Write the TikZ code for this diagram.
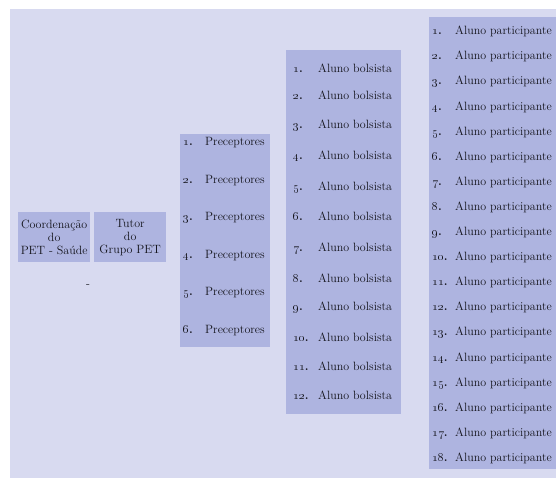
\documentclass[tikz,border=0pt]{standalone}
\definecolor{bgc}{RGB}{216,218,240}
\definecolor{boxc}{RGB}{174,180,224}
\definecolor{txt}{RGB}{20,20,28}
\begin{document}
\begin{tikzpicture}[x=1pt,y=-1pt,
  box/.style={fill=boxc, inner sep=0pt, anchor=north west},
  num/.style={anchor=west, inner sep=0pt, text height=8pt, text depth=2.5pt, text=txt, font=\fontsize{12}{14}\selectfont\bfseries},
  lbl/.style={anchor=west, inner sep=0pt, text height=8pt, text depth=2.5pt, text=txt, font=\fontsize{12}{14}\selectfont},
  ctr/.style={align=center, inner sep=0pt, text=txt, font=\fontsize{12}{13}\selectfont}]
\useasboundingbox (0,0) rectangle (556,478);
\fill[bgc] (10,9) rectangle (556,478);
% boxes
\node[box, minimum width=72pt, minimum height=50pt] (coord) at (18,212) {};
\node[box, minimum width=72pt, minimum height=50pt] (tutor) at (94,212) {};
\node[box, minimum width=90pt, minimum height=213pt] (prec) at (180,134) {};
\node[box, minimum width=115pt, minimum height=364pt] (bols) at (286,50) {};
\node[box, minimum width=127pt, minimum height=452pt] (part) at (429,17) {};
% headers
\node[ctr] (coordt) at (coord.center) {Coordenação\\do\\PET - Saúde};
\node[ctr] (tutort) at (tutor.center) {Tutor\\do\\Grupo PET};
\node[lbl, anchor=center] (dash) at (88,285) {-};
% preceptores
\foreach \i in {1,...,6}{
  \node[num] (pn\i) at (183,{143+37.5*(\i-1)}) {\oldstylenums{\i}.};
  \node[lbl] (pl\i) at (205,{143+37.5*(\i-1)}) {Preceptores};
}
% bolsistas
\foreach \i/\y in {1/70,2/97,3/126,4/157,5/188,6/218,7/249,8/280,9/308,10/339,11/368,12/397}{
  \node[num] (bn\i) at (293,\y) {\oldstylenums{\i}.};
  \node[lbl] (bl\i) at (318,\y) {Aluno bolsista};
}
% participantes
\foreach \i in {1,...,18}{
  \node[num] (an\i) at (432,{32+25.1*(\i-1)}) {\oldstylenums{\i}.};
  \node[lbl] (al\i) at (455,{32+25.1*(\i-1)}) {Aluno participante};
}
\end{tikzpicture}
\end{document}
